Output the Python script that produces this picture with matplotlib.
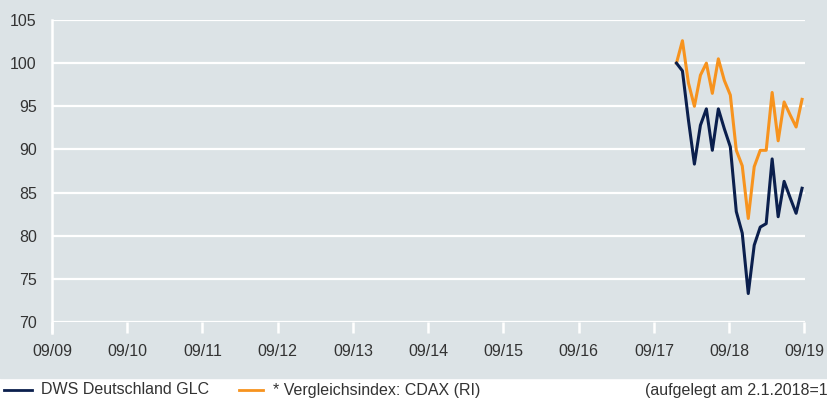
import matplotlib.pyplot as plt
from matplotlib.lines import Line2D
from matplotlib.patches import Rectangle

# x in months counted from 09/2009 (=0); series start 2.1.2018
months = [99.6, 100.55, 101.51, 102.46, 103.42, 104.37, 105.32, 106.28, 107.23,
          108.19, 109.14, 110.09, 111.05, 112.0, 112.96, 113.91, 114.86,
          115.82, 116.77, 117.73, 118.68, 119.63]
fund = [100.0, 99.1, 93.4, 88.3, 92.8, 94.7, 89.9, 94.7, 92.4, 90.3, 82.8,
        80.3, 73.3, 78.9, 81.0, 81.4, 88.9, 82.2, 86.3, 84.4, 82.6, 85.5]
bench = [100.0, 102.6, 97.7, 95.0, 98.6, 100.0, 96.5, 100.5, 98.0, 96.3, 89.9,
         88.1, 82.0, 88.0, 89.9, 89.9, 96.6, 91.0, 95.5, 94.0, 92.6, 95.8]

year_ticks = [0, 12, 24, 36, 48, 60, 72, 84, 96, 108, 120]
year_labels = ['09/09', '09/10', '09/11', '09/12', '09/13', '09/14',
               '09/15', '09/16', '09/17', '09/18', '09/19']
y_ticks = [70, 75, 80, 85, 90, 95, 100, 105]

NAVY = '#0b1f4d'
ORANGE = '#f7931e'
BG = '#dce3e6'
TXT = '#333333'

plt.rcParams['font.family'] = ['Liberation Sans', 'DejaVu Sans']

W, H = 828, 403
fig = plt.figure(figsize=(W / 100, H / 100), dpi=100, facecolor='white')
fig.patches.append(Rectangle((0, 25 / H), 1, 1, transform=fig.transFigure,
                             color=BG, zorder=-5))

ax = fig.add_axes([52 / W, (H - 322) / H, (805 - 52) / W, (322 - 20) / H])
ax.set_facecolor('none')
for s in ax.spines.values():
    s.set_visible(False)

ax.set_xlim(0, 120.1)
ax.set_ylim(70, 105)

for v in y_ticks:
    ax.axhline(v, color='white', lw=1.6, zorder=1)
ax.plot([0, 0], [68.7, 105], color='white', lw=1.8, clip_on=False, zorder=1)

ax.set_xticks(year_ticks)
ax.set_xticklabels(year_labels)
ax.set_yticks(y_ticks)
ax.tick_params(axis='x', direction='out', length=8, width=1.8, color='white',
               pad=8, labelsize=11.5, labelcolor=TXT)
ax.tick_params(axis='y', length=0, pad=11, labelsize=11.5, labelcolor=TXT)

ax.plot(months, bench, color=ORANGE, lw=2.2, zorder=3)
ax.plot(months, fund, color=NAVY, lw=2.2, zorder=4)

# legend row
ly = 13 / H
fig.lines.append(Line2D([4 / W, 32 / W], [ly, ly], transform=fig.transFigure,
                        color=NAVY, lw=2))
fig.text(41 / W, ly, 'DWS Deutschland GLC', fontsize=11.5, color=TXT,
         va='center')
fig.lines.append(Line2D([239 / W, 263 / W], [ly, ly], transform=fig.transFigure,
                        color=ORANGE, lw=2))
fig.text(273 / W, ly, '* Vergleichsindex: CDAX (RI)', fontsize=11.5,
         color=TXT, va='center')
fig.text(645 / W, ly, '(aufgelegt am 2.1.2018=100)', fontsize=11.5,
         color=TXT, va='center')

fig.savefig('out.png', dpi=100, facecolor='white')
